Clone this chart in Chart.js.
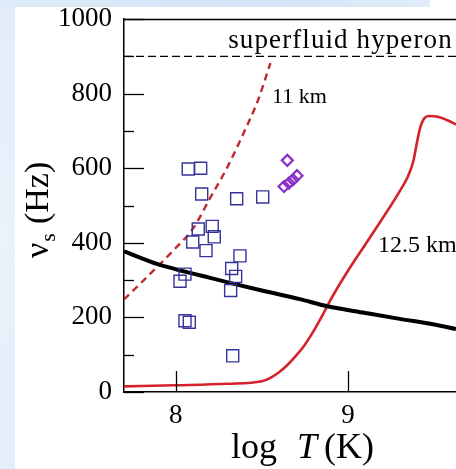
<!DOCTYPE html>
<html>
<head>
<meta charset="utf-8">
<title>Spin frequency vs temperature</title>
<script src="https://cdn.jsdelivr.net/npm/chart.js@4.4.1/dist/chart.umd.min.js"></script>
<style>
  html, body { margin: 0; padding: 0; background: #fff; overflow: hidden; }
  .band-left {
    position: absolute; left: 0; top: 0; width: 15px; height: 469px;
    background: linear-gradient(to bottom, #e2edf9, #eaf2fb 50%, #e4eef9);
  }
  .band-top {
    position: absolute; left: 0; top: 0; width: 430px; height: 7px;
    background: linear-gradient(to right, #dfebf8, #d3e4f6 60%, #e0ecf9);
  }
  #chart { position: absolute; left: 0; top: 0; }
</style>
</head>
<body>
<div class="band-left"></div>
<div class="band-top"></div>
<canvas id="chart" width="456" height="469"></canvas>
<script>
// axis ranges
const xRange = [7.70, 9.627];
const yRange = [0, 1000];
const xTickValues = [8, 9];

// black curve
const critLogT = [7.70, 7.90, 8.06, 8.20, 8.32, 8.50, 8.72, 8.88, 9.10, 9.30, 9.50, 9.627];
const critFreq = [377, 342, 322, 306, 292, 272, 249, 230, 212, 196, 181, 169];

// 11 km star (dashed red)
const r11LogT = [7.70, 7.85, 8.00, 8.10, 8.20, 8.30, 8.40, 8.48, 8.55];
const r11Freq = [248, 316, 386, 438, 520, 603, 700, 785, 882];

// 12.5 km star (solid red)
const r125LogT = [7.70, 8.00, 8.30, 8.50, 8.55, 8.60, 8.65, 8.70, 8.75, 8.80, 8.85, 8.90, 9.00, 9.10,
                  9.20, 9.30, 9.35, 9.38, 9.40, 9.42, 9.44, 9.47, 9.52, 9.58, 9.627];
const r125Freq = [15, 18, 22, 29, 38, 53, 73, 98, 127, 163, 204, 248, 325, 395,
                  465, 538, 580, 620, 668, 710, 732, 740, 738, 728, 717];

// superfluid hyperon limit
const hyperonLogT = [7.70, 9.627];
const hyperonFreq = [900, 900];

// LMXB sources (squares)
const sqLogT = [8.073, 8.145, 8.151, 8.354, 8.505, 8.131, 8.212, 8.224, 8.099, 8.176,
                8.373, 8.325, 8.348, 8.319, 8.054, 8.025, 8.054, 8.079, 8.331];
const sqFreq = [598, 600, 531, 518, 523, 437, 444, 416, 402, 379,
                365, 331, 310, 272, 316, 297, 191, 187, 97];

// diamonds
const dmLogT = [8.648, 8.629, 8.657, 8.681, 8.704];
const dmFreq = [621, 551, 560, 569, 580];

// text labels placed in data coordinates
const notes = [
  { text: 'superfluid hyperon', x: 8.305, y: 922, size: 27, spacing: 1.1 },
  { text: '11 km', x: 8.559, y: 776, size: 22, spacing: 0 },
  { text: '12.5 km', x: 9.174, y: 376, size: 24, spacing: 0 }
];

const SERIF = '"Liberation Serif", "Times New Roman", serif';

function pts(xs, ys) {
  return xs.map((x, i) => ({ x: x, y: ys[i] }));
}

// frame, inward ticks, axis titles and notes
const decorations = {
  id: 'decorations',
  afterDraw(chart) {
    const ctx = chart.ctx;
    const area = chart.chartArea;
    const xs = chart.scales.x;
    const ys = chart.scales.y;
    ctx.save();
    ctx.strokeStyle = '#000';
    ctx.lineWidth = 1.5;

    // top spine
    ctx.beginPath();
    ctx.moveTo(area.left, area.top + 0.5);
    ctx.lineTo(area.right, area.top + 0.5);
    ctx.stroke();

    // y ticks pointing inward
    ctx.lineWidth = 1.3;
    for (let v = yRange[0]; v <= yRange[1]; v += 100) {
      const py = Math.round(ys.getPixelForValue(v)) + 0.5;
      const len = v % 200 === 0 ? 20 : 10;
      ctx.beginPath();
      ctx.moveTo(area.left, py);
      ctx.lineTo(area.left + len, py);
      ctx.stroke();
    }
    // x ticks pointing inward
    xTickValues.forEach(v => {
      const px = Math.round(xs.getPixelForValue(v)) + 0.5;
      ctx.beginPath();
      ctx.moveTo(px, area.bottom);
      ctx.lineTo(px, area.bottom - 21);
      ctx.stroke();
    });

    ctx.fillStyle = '#000';
    ctx.textBaseline = 'alphabetic';
    ctx.textAlign = 'left';

    // notes
    notes.forEach(n => {
      ctx.font = n.size + 'px ' + SERIF;
      ctx.letterSpacing = n.spacing + 'px';
      ctx.fillText(n.text, xs.getPixelForValue(n.x), ys.getPixelForValue(n.y));
    });
    ctx.letterSpacing = '0px';

    // x title: log T (K)
    ctx.font = '36px ' + SERIF;
    ctx.fillText('log', 231, 458);
    ctx.fillText('(K)', 324, 458);
    ctx.font = 'italic 36px ' + SERIF;
    ctx.fillText('T', 297, 458);

    // y title: nu_s (Hz), rotated
    ctx.translate(48, 258);
    ctx.rotate(-Math.PI / 2);
    ctx.font = '34px ' + SERIF;
    ctx.fillText('\u03bd', 0, 0);
    let w = ctx.measureText('\u03bd').width;
    ctx.font = '22px ' + SERIF;
    ctx.fillText('s', w + 1, 7);
    w += ctx.measureText('s').width + 10;
    ctx.font = '34px ' + SERIF;
    ctx.fillText('(Hz)', w, 0);
    ctx.restore();
  }
};

new Chart(document.getElementById('chart'), {
  type: 'scatter',
  data: {
    datasets: [
      {
        label: 'diamonds',
        data: pts(dmLogT, dmFreq),
        pointStyle: 'rectRot',
        pointRadius: 5.5,
        borderColor: '#8a30c6',
        backgroundColor: 'rgba(0,0,0,0)',
        pointBorderWidth: 2.2
      },
      {
        label: 'squares',
        data: pts(sqLogT, sqFreq),
        pointStyle: 'rect',
        pointRadius: 8.5,
        borderColor: '#34349a',
        backgroundColor: 'rgba(0,0,0,0)',
        pointBorderWidth: 1.4
      },
      {
        label: 'critical',
        data: pts(critLogT, critFreq),
        showLine: true,
        borderColor: '#000',
        borderWidth: 4,
        pointRadius: 0,
        cubicInterpolationMode: 'monotone'
      },
      {
        label: '12.5 km',
        data: pts(r125LogT, r125Freq),
        showLine: true,
        borderColor: '#d3222a',
        borderWidth: 2.6,
        pointRadius: 0,
        cubicInterpolationMode: 'monotone'
      },
      {
        label: '11 km',
        data: pts(r11LogT, r11Freq),
        showLine: true,
        borderColor: '#c1272f',
        borderWidth: 2.4,
        borderDash: [7, 5],
        pointRadius: 0,
        cubicInterpolationMode: 'monotone'
      },
      {
        label: 'superfluid hyperon',
        data: pts(hyperonLogT, hyperonFreq),
        showLine: true,
        borderColor: '#000',
        borderWidth: 1.3,
        borderDash: [8, 4],
        pointRadius: 0
      }
    ]
  },
  options: {
    responsive: false,
    devicePixelRatio: 1,
    animation: false,
    layout: { autoPadding: false, padding: { top: 19, left: 0, right: 0, bottom: 0 } },
    plugins: {
      legend: { display: false },
      tooltip: { enabled: false }
    },
    scales: {
      x: {
        type: 'linear',
        position: 'bottom',
        min: xRange[0],
        max: xRange[1],
        border: { display: true, color: '#000', width: 1.5 },
        grid: { drawOnChartArea: false, drawTicks: false },
        ticks: {
          color: '#000',
          padding: 8,
          font: { family: SERIF, size: 27 }
        },
        afterBuildTicks: s => { s.ticks = xTickValues.map(v => ({ value: v })); },
        afterFit: s => {
          s.height = 77;
          s.paddingLeft = 0;
          s.paddingRight = 0;
        }
      },
      y: {
        min: yRange[0],
        max: yRange[1],
        border: { display: true, color: '#000', width: 1.5 },
        grid: { drawOnChartArea: false, drawTicks: false },
        ticks: {
          stepSize: 200,
          color: '#000',
          padding: 12,
          font: { family: SERIF, size: 27 },
          callback: v => String(v)
        },
        afterFit: s => {
          s.width = 124;
          s.paddingTop = 0;
          s.paddingBottom = 0;
        }
      }
    }
  },
  plugins: [decorations]
});
</script>
</body>
</html>
